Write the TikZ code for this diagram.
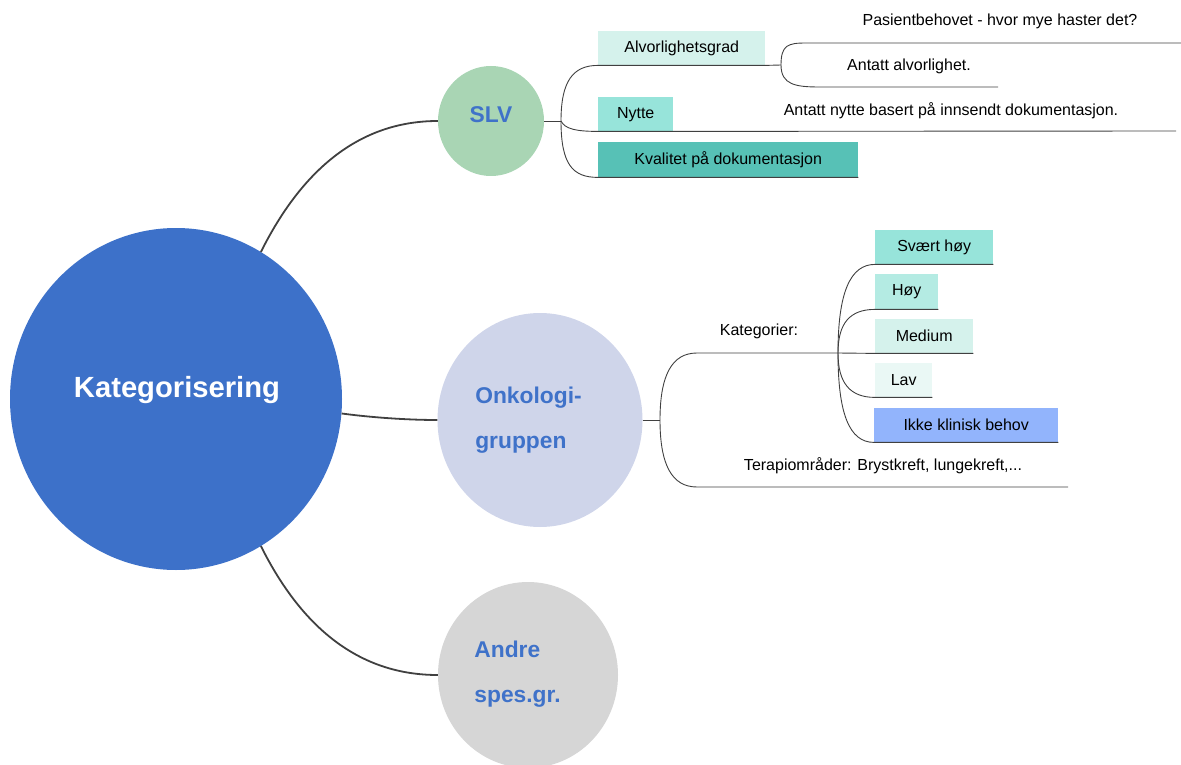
\documentclass[tikz,border=0pt]{standalone}
\usepackage{fontspec}
\setmainfont{Liberation Sans}
\usetikzlibrary{shapes.geometric}
\definecolor{mainblue}{HTML}{3D71C9}
\definecolor{txtblue}{HTML}{3F72C9}
\definecolor{slvgreen}{HTML}{A9D5B4}
\definecolor{onkfill}{HTML}{CFD5EA}
\definecolor{andrefill}{HTML}{D6D6D6}
\definecolor{mintA}{HTML}{D5F2EC}
\definecolor{mintB}{HTML}{97E4DA}
\definecolor{mintC}{HTML}{57C1B6}
\definecolor{mintD}{HTML}{B4EBE3}
\definecolor{mintE}{HTML}{EAF8F5}
\definecolor{periw}{HTML}{92B4FC}
\definecolor{linegray}{HTML}{404040}
\begin{document}
\begin{tikzpicture}[x=1pt,y=-1pt,
  circ/.style={ellipse,inner sep=0pt,draw=none},
  biglbl/.style={font=\fontsize{29.2}{34}\selectfont\bfseries,text=white},
  circlbl/.style={font=\fontsize{22.8}{45}\selectfont\bfseries,text=txtblue,align=left},
  box/.style={rectangle,inner sep=0pt,anchor=north west,font=\fontsize{16}{19}\selectfont,text=black},
  txt/.style={inner sep=0pt,font=\fontsize{16}{19}\selectfont,text=black},
  mainconn/.style={draw=linegray,line width=1.8pt},
  conn/.style={draw=linegray,line width=0.9pt}]
\useasboundingbox (0,0) rectangle (1181,765);

% circles
\node[circ,fill=mainblue,minimum width=332pt,minimum height=342pt] (main) at (176,399) {};
\node[biglbl] (mainlbl) at (177,390) {Kategorisering};
\node[circ,fill=slvgreen,minimum width=106pt,minimum height=110pt] (slv) at (491,121) {};
\node[circlbl] (slvlbl) at (491,115) {SLV};
\node[circ,fill=onkfill,minimum width=205pt,minimum height=214pt] (onk) at (540,420) {};
\node[circlbl] (onklbl) at (528.5,420) {Onkologi-\\gruppen};
\node[circ,fill=andrefill,minimum width=180pt,minimum height=186pt] (andre) at (528,675) {};
\node[circlbl] (andrelbl) at (517.5,674.5) {Andre\\spes.gr.};

% main connectors
\draw[mainconn] (main.60) .. controls +(40,-80) and +(-80,0) .. (slv.west);
\draw[mainconn] (main.-5) .. controls +(30,4) and +(-30,0) .. (onk.west);
\draw[mainconn] (main.-60) .. controls +(40,80) and +(-80,0) .. (andre.west);

% SLV branch
\node[box,fill=mintA,minimum width=167pt,minimum height=34pt] (alv) at (598,31) {Alvorlighetsgrad};
\node[box,fill=mintB,minimum width=75pt,minimum height=34pt] (nytte) at (598,97) {Nytte};
\node[box,fill=mintC,minimum width=260pt,minimum height=35pt] (kval) at (598,142) {Kvalitet på dokumentasjon};
\node[txt] (pas) at (1000,21) {Pasientbehovet - hvor mye haster det?};
\node[txt] (antalv) at (909,66) {Antatt alvorlighet.};
\node[txt] (antnyt) at (951,111) {Antatt nytte basert på innsendt dokumentasjon.};
\coordinate (j1) at (561,121);
\coordinate (j2) at (781,65);
\coordinate (pasL) at (806,43);
\coordinate (pasR) at (1181,43);
\coordinate (antL) at (820,87);
\coordinate (antR) at (998,87);
\coordinate (nytR) at (1176,131);

\draw[conn] (slv.east) -- (j1);
\draw[conn] (j1) .. controls +(0,-40) and +(-25,0) .. (alv.south west) -- (alv.south east) -- (j2);
\draw[conn] (j1) .. controls +(4,8) and +(-22,0) .. (nytte.south west) -- (nytte.south east) -- (nytR);
\draw[conn] (j1) .. controls +(0,44) and +(-25,0) .. (kval.south west) -- (kval.south east);
\draw[conn] (j2) .. controls +(0,-20) and +(-18,0) .. (pasL) -- (pasR);
\draw[conn] (j2) .. controls +(0,20) and +(-24,0) .. (antL) -- (antR);

% Onkologi branch
\node[box,fill=mintB,minimum width=118pt,minimum height=34pt] (sv) at (875,230) {Svært høy};
\node[box,fill=mintD,minimum width=63pt,minimum height=35pt] (hoy) at (875,274) {Høy};
\node[box,fill=mintA,minimum width=98pt,minimum height=34pt] (med) at (875,319) {Medium};
\node[box,fill=mintE,minimum width=57pt,minimum height=34pt] (lav) at (875,363) {Lav};
\node[box,fill=periw,minimum width=184pt,minimum height=34pt] (ikke) at (874,408) {Ikke klinisk behov};
\node[txt] (kat) at (759,331) {Kategorier:};
\node[txt] (ter) at (883,466) {Terapiområder: Brystkreft, lungekreft,...};
\coordinate (j3) at (660,420);
\coordinate (j4) at (838,353);
\coordinate (katL) at (697,353);
\coordinate (terL) at (697,487);
\coordinate (terR) at (1068,487);

\draw[conn] (onk.east) -- (j3);
\draw[conn] (j3) .. controls +(0,-45) and +(-25,0) .. (katL) -- (j4);
\draw[conn] (j3) .. controls +(0,45) and +(-25,0) .. (terL) -- (terR);
\draw[conn] (j4) .. controls +(0,-60) and +(-25,0) .. (sv.south west) -- (sv.south east);
\draw[conn] (j4) .. controls +(0,-30) and +(-25,0) .. (hoy.south west) -- (hoy.south east);
\draw[conn] (j4) -- (med.south west) -- (med.south east);
\draw[conn] (j4) .. controls +(0,30) and +(-25,0) .. (lav.south west) -- (lav.south east);
\draw[conn] (j4) .. controls +(0,60) and +(-25,0) .. (ikke.south west) -- (ikke.south east);
\end{tikzpicture}
\end{document}
